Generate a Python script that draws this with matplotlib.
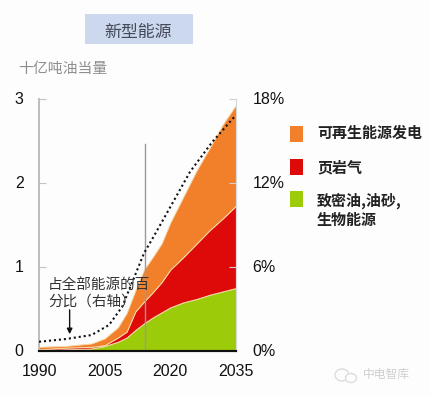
import matplotlib
matplotlib.use("Agg")
import matplotlib.pyplot as plt
from matplotlib.patches import Rectangle, Ellipse
from matplotlib.transforms import ScaledTranslation

CJK = ["Noto Sans CJK SC", "DejaVu Sans"]
LAT = "Liberation Sans"

years = [1990, 1996, 2002, 2005, 2008, 2010, 2012, 2014, 2016, 2018, 2020, 2023, 2026, 2029, 2032, 2035]
tight_bio = [.01, .02, .03, .06, .11, .16, .25, .33, .40, .46, .52, .58, .62, .67, .71, .75]
shale_gas = [.01, .02, .02, .01, .05, .07, .22, .26, .30, .36, .45, .54, .66, .77, .87, .98]
renewables = [.03, .02, .04, .08, .12, .22, .25, .38, .42, .46, .56, .72, .87, .98, 1.12, 1.20]

share_years = [1990, 1996, 2002, 2006, 2009, 2011.5, 2014, 2016, 2020.5, 2024.5, 2029.5, 2035]
share_pct = [.66, .85, 1.14, 1.86, 3.16, 5.07, 7.0, 8.07, 10.57, 12.8, 14.9, 16.86]

marker_year = 2014.2
marker_top = 2.46
x_ticks = [1990, 2005, 2020, 2035]
left_ticks = [0, 1, 2, 3]
right_ticks = [0, 6, 12, 18]
colors = ["#9CCB0A", "#DE0A0A", "#F2802B"]
legend_labels = ["可再生能源发电", "页岩气", "致密油,油砂,\n生物能源"]
legend_colors = ["#F2802B", "#DE0A0A", "#9CCB0A"]

W, H = 430, 395
fig = plt.figure(figsize=(W / 100, H / 100), dpi=100, facecolor="#FDFDFE")
def fx(p): return p / W
def fy(p): return 1 - p / H

ax = fig.add_axes([fx(39), fy(351), (236 - 39) / W, (351 - 99) / H], facecolor="none")
ax.stackplot(years, tight_bio, shale_gas, renewables, colors=colors,
             edgecolor="#F6D9A8", linewidth=0.7, zorder=2)
ax.plot([marker_year, marker_year], [0, marker_top], color="#9A9A9A", lw=1, zorder=3)
ax2 = ax.twinx()
ax2.set_facecolor("none")
ax2.plot(share_years, share_pct, color="#111111", lw=1.5, ls=(0, (1, 1.4)), zorder=4)

ax.set_xlim(1990, 2035)
ax.set_ylim(0, 3)
ax2.set_ylim(0, 18)
ax.set_xticks(x_ticks)
ax.set_yticks(left_ticks)
ax2.set_yticks(right_ticks)
ax2.set_yticklabels([f"{v}%" for v in right_ticks])
for a in (ax, ax2):
    a.spines["top"].set_visible(False)
    a.spines["left"].set_color("#BDBDBD")
    a.spines["right"].set_color("#D8D8D8")
    a.spines["bottom"].set_color("#111111")
    a.spines["bottom"].set_linewidth(1.5)
    a.spines["left"].set_linewidth(1.2)
ax.tick_params(axis="x", length=0, pad=9, labelsize=11.5, labelfontfamily=LAT, labelcolor="#111111")
ax.tick_params(axis="y", direction="in", length=5, color="#C4C4C4", pad=11, labelsize=11.5,
               labelfontfamily=LAT, labelcolor="#111111")
ax2.tick_params(axis="y", direction="in", length=5, color="#D0D0D0", pad=12, labelsize=11.5,
                labelfontfamily=LAT, labelcolor="#111111")
up = ScaledTranslation(0, 1.5 / 100, fig.dpi_scale_trans)
for lab in ax.get_yticklabels() + ax2.get_yticklabels():
    lab.set_transform(lab.get_transform() + up)

ax.annotate("", xy=(1997, 0.2), xytext=(1997, 0.49),
            arrowprops=dict(arrowstyle="-|>", color="#111111", lw=1, mutation_scale=8, shrinkA=0, shrinkB=0), zorder=5)
ax2.set_zorder(ax.get_zorder() + 1)

fig.patches.append(Rectangle((fx(85), fy(44)), 108 / W, 30 / H, transform=fig.transFigure,
                             facecolor="#CCD8EE", edgecolor="none"))
fig.text(fx(138), fy(32), "新型能源", family=CJK, fontsize=12.2, color="#444A5A", ha="center", va="center")
fig.text(fx(18), fy(69), "十亿吨油当量", family=CJK, fontsize=10.7, color="#8E8E8E", ha="left", va="center")
fig.text(fx(48), fy(293), "占全部能源的百\n分比（右轴）", family=CJK, fontsize=10.5, color="#333333",
         ha="left", va="center", linespacing=1.3, zorder=10)

patch_rows = [134, 167, 199]
text_rows = [133, 167, 210]
for label, col, ry, ty in zip(legend_labels, legend_colors, patch_rows, text_rows):
    fig.patches.append(Rectangle((fx(290), fy(ry + 8)), 13 / W, 16 / H, transform=fig.transFigure,
                                 facecolor=col, edgecolor="none"))
    fig.text(fx(317), fy(ty), label, family=CJK, fontsize=10.8, fontweight="bold", color="#222222",
             ha="left", va="center", linespacing=1.2)

fig.patches.append(Ellipse((fx(342), fy(375)), 14 / W, 12 / H, transform=fig.transFigure,
                           facecolor="none", edgecolor="#DDDDDD", lw=1))
fig.patches.append(Ellipse((fx(351), fy(378)), 11 / W, 9 / H, transform=fig.transFigure,
                           facecolor="#FDFDFE", edgecolor="#DDDDDD", lw=1))
fig.text(fx(363), fy(374), "中电智库", family=CJK, fontsize=8.5, color="#CFCFCF", ha="left", va="center")

fig.savefig("out.png", dpi=100, facecolor=fig.get_facecolor())
